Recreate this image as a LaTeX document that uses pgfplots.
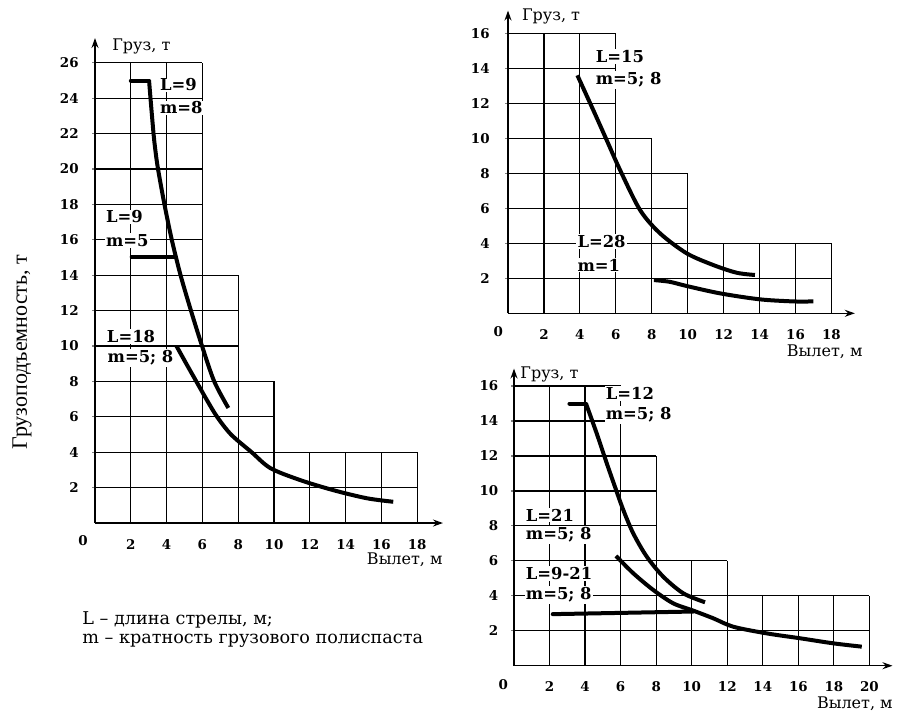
\documentclass[border=0pt]{standalone}
\usepackage{fontspec}
\setmainfont{DejaVu Serif}
\newfontfamily\libser{Liberation Serif}
\usepackage{pgfplots}
\pgfplotsset{compat=1.18}
\usetikzlibrary{arrows.meta}

\newcommand{\hl}[2]{\draw[gridl] (axis cs:0,#1) -- (axis cs:#2,#1);}
\newcommand{\vl}[2]{\draw[gridl] (axis cs:#1,0) -- (axis cs:#1,#2);}

\tikzset{
  gridl/.style={line width=0.6pt, black},
  lab/.style={font=\fontsize{8.2}{9}\selectfont\bfseries, fill=white, inner sep=0.6pt, anchor=west},
  axl/.style={font=\fontsize{8}{9}\selectfont, inner sep=0pt},
  zero/.style={font=\fontsize{6.7}{8}\selectfont\bfseries, inner sep=0pt},
}
\pgfplotsset{
  panel/.style={
    scale only axis, axis lines=left, xmin=0, ymin=0, clip=false,
    axis line style={line width=0.75pt, -{Stealth[length=5pt,width=3.5pt]}},
    tick align=center, major tick length=3pt,
    xtick style={draw=none}, ytick style={line width=0.6pt},
    ticklabel style={font=\fontsize{6.7}{8}\selectfont\bfseries, inner sep=0pt},
    /pgf/number format/assume math mode=true,
    anchor=south west,
  },
  curve/.style={line width=2pt, black, smooth, tension=0.5},
  hseg/.style={line width=2pt, black, line cap=round},
}

\begin{document}
\begin{tikzpicture}
\useasboundingbox (0pt,0pt) rectangle (449pt,-357pt);

% ---------------- Panel 1 (left) ----------------
\begin{axis}[panel, at={(47.5pt,-261.5pt)}, x=8.95pt, y=8.85pt,
  xmax=19.44, ymax=27.4,
  xtick={2,4,...,18}, ytick={2,4,...,26},
  xticklabel style={anchor=center, yshift=-9.2pt},
  yticklabel style={anchor=east, xshift=-6.5pt}]
\hl{2}{18}\hl{4}{18}\hl{6}{10}\hl{8}{10}\hl{10}{8}\hl{12}{8}\hl{14}{8}
\hl{16}{6}\hl{18}{6}\hl{20}{6}\hl{22}{6}\hl{24}{6}\hl{26}{6}
\vl{2}{26}\vl{4}{26}\vl{6}{26}\vl{8}{14}\vl{10}{8}\vl{12}{4}\vl{14}{4}\vl{16}{4}\vl{18}{4}
\node[lab] at (axis cs:3.55,24.75) {L=9};
\node[lab] at (axis cs:3.55,23.45) {m=8};
\node[lab] at (axis cs:0.53,17.29) {L=9};
\node[lab] at (axis cs:0.53,15.95) {m=5};
\node[lab] at (axis cs:0.58,10.56) {L=18};
\node[lab] at (axis cs:0.62,9.32) {m=5; 8};
\node[axl, anchor=west] at (axis cs:0.95,26.9) {Груз, т};
\node[axl, anchor=east] at (axis cs:19.44,-2.09) {Вылет, м};
\node[zero] at (axis cs:-0.67,-1.0) {0};
\addplot[hseg] coordinates {(2.0,25) (3.02,25)};
\addplot[curve] coordinates {(3.02,25) (3.1,24) (3.27,22) (3.38,21) (3.52,20) (3.88,18) (4.29,16) (4.78,14) (5.36,12) (5.98,10) (6.66,8) (7.45,6.5)};
\addplot[hseg] coordinates {(2.05,15.05) (4.45,15.05)};
\addplot[curve] coordinates {(4.55,10) (5.1,9) (5.66,8) (6.22,7) (6.82,6) (7.6,5) (8.75,4) (9.8,3.1) (11.45,2.43) (13.3,1.86) (15.18,1.4) (16.66,1.2)};
\end{axis}

% ---------------- Panel 2 (top right) ----------------
\begin{axis}[panel, at={(254pt,-156.65pt)}, x=8.985pt, y=8.75pt,
  xmax=19.3, ymax=17.3,
  xtick={2,4,...,18}, ytick={2,4,...,16},
  xticklabel style={anchor=center, yshift=-9.2pt},
  yticklabel style={anchor=east, xshift=-7.5pt}]
\hl{2}{18}\hl{4}{18}\hl{6}{10}\hl{8}{10}\hl{10}{8}\hl{12}{6}\hl{14}{6}\hl{16}{6}
\vl{2}{16}\vl{4}{16}\vl{6}{16}\vl{8}{10}\vl{10}{8}\vl{12}{4}\vl{14}{4}\vl{16}{4}\vl{18}{4}
\node[lab] at (axis cs:4.8,14.66) {L=15};
\node[lab] at (axis cs:4.8,13.33) {m=5; 8};
\node[lab] at (axis cs:3.78,4.09) {L=28};
\node[lab] at (axis cs:3.78,2.76) {m=1};
\node[axl, anchor=west] at (axis cs:0.76,16.95) {Груз, т};
\node[axl, anchor=east] at (axis cs:19.75,-2.19) {Вылет, м};
\node[zero] at (axis cs:-0.54,-1.05) {0};
\addplot[curve] coordinates {(3.86,13.6) (4.75,11.6) (5.49,9.9) (6.23,8.2) (7.35,5.9) (8.46,4.57) (9.94,3.43) (11.42,2.76) (12.72,2.32) (13.74,2.19)};
\addplot[curve] coordinates {(8.12,1.9) (9.0,1.8) (9.94,1.56) (11.8,1.14) (14.0,0.8) (15.87,0.68) (16.99,0.68)};
\end{axis}

% ---------------- Panel 3 (bottom right) ----------------
\begin{axis}[panel, at={(257pt,-332.85pt)}, x=8.885pt, y=8.74pt,
  xmax=21.3, ymax=17.0,
  xtick={2,4,...,20}, ytick={2,4,...,16},
  xticklabel style={anchor=center, yshift=-8.8pt},
  yticklabel style={anchor=east, xshift=-6.2pt}]
\hl{2}{20}\hl{4}{20}\hl{6}{12}\hl{8}{8}\hl{10}{8}\hl{12}{8}\hl{14}{6}\hl{16}{6}
\vl{2}{16}\vl{4}{16}\vl{6}{16}\vl{8}{12}\vl{10}{6}\vl{12}{6}\vl{14}{4}\vl{16}{4}\vl{18}{4}\vl{20}{4}
\node[lab] at (axis cs:5.08,15.58) {L=12};
\node[lab] at (axis cs:5.08,14.34) {m=5; 8};
\node[lab] at (axis cs:0.58,8.62) {L=21};
\node[lab] at (axis cs:0.58,7.48) {m=5; 8};
\node[lab] at (axis cs:0.58,5.29) {L=9-21};
\node[lab] at (axis cs:0.58,4.04) {m=5; 8};
\node[axl, anchor=west] at (axis cs:0.34,16.67) {Груз, т};
\node[axl, anchor=east] at (axis cs:21.33,-2.15) {Вылет, м};
\node[zero] at (axis cs:-0.6,-1.1) {0};
\addplot[hseg] coordinates {(3.12,15) (4.05,15)};
\addplot[curve] coordinates {(4.05,15) (4.65,13.3) (5.22,11.58) (5.68,10.24) (6.15,8.91) (6.71,7.57) (7.47,6.24) (8.4,5.09) (9.53,4.14) (10.75,3.63)};
\addplot[curve] coordinates {(5.74,6.28) (6.71,5.29) (7.84,4.33) (8.96,3.57) (10.09,3.15) (11.22,2.71) (12.34,2.23) (14.22,1.85) (16.1,1.57) (17.97,1.28) (19.57,1.09)};
\addplot[hseg] coordinates {(2.18,2.95) (10.09,3.1)};
\end{axis}

% ---------------- outside texts ----------------
\node[rotate=90, font=\libser\fontsize{11}{13}\selectfont, inner sep=0pt] at (11pt,-176pt) {Грузоподъемность, т};
\node[anchor=west, font=\fontsize{8.8}{10}\selectfont, inner sep=0pt] at (41pt,-310pt) {L – длина стрелы, м;};
\node[anchor=west, font=\fontsize{8.8}{10}\selectfont, inner sep=0pt] at (41pt,-320.5pt) {m – кратность грузового полиспаста};
\end{tikzpicture}
\end{document}
